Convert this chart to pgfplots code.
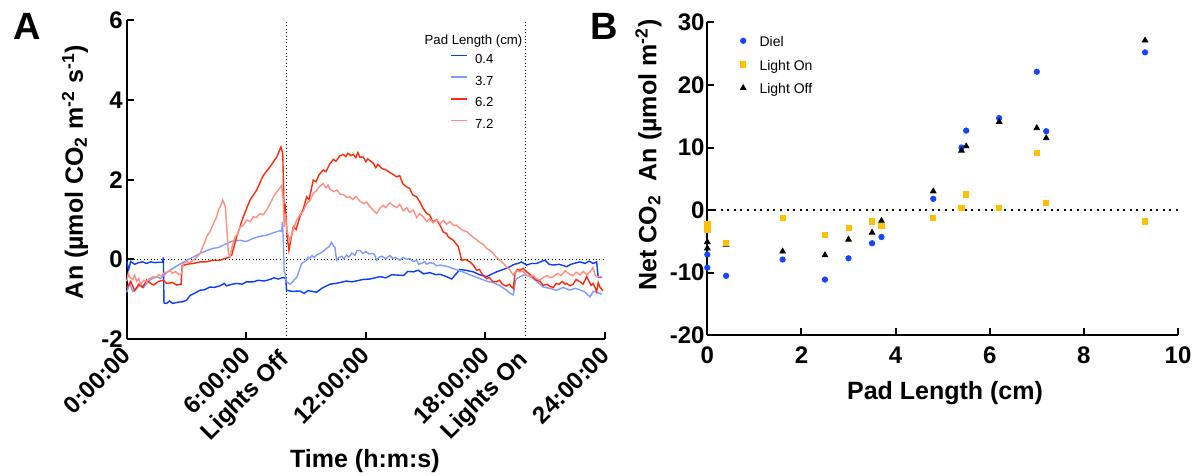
\documentclass[border=0pt]{standalone}
\usepackage{fontspec}
\setmainfont{Liberation Sans}
\usepackage{pgfplots}
\pgfplotsset{compat=1.18}
\definecolor{c04}{HTML}{0A3CFF}
\definecolor{c37}{HTML}{7F9BFF}
\definecolor{c62}{HTML}{FF2A0A}
\definecolor{c72}{HTML}{FF9080}
\definecolor{diel}{HTML}{1446FF}
\definecolor{lon}{HTML}{FFC000}
\pgfplotsset{
 gp/.style={
  scale only axis, axis lines*=left, axis line style={line width=1pt},
  tick align=inside, major tick length=3.5pt, tick style={line width=1pt, black},
  /pgf/number format/assume math mode=true,
  tick label style={font=\fontsize{12}{12}\selectfont\bfseries},
  label style={font=\fontsize{12.5}{12.5}\selectfont\bfseries},
  clip=false,
 }
}
\begin{document}
\begin{tikzpicture}
\begin{axis}[gp, at={(63.35pt,68.35pt)}, anchor=south west,
 width=239.15pt, height=159.65pt,
 xmin=0, xmax=24, ymin=-2, ymax=6,
 xtick={0,6,12,18,24},
 xticklabels={0:00:00,6:00:00,12:00:00,18:00:00,24:00:00},
 extra x ticks={8,20}, extra x tick labels={Lights Off,Lights On},
 extra x tick style={major tick length=0pt, xticklabel style={rotate=-45, yshift=-2.5pt, rotate=45}},
 ytick={-2,0,2,4,6},
 xticklabel style={yshift=-6pt, rotate=45, anchor=east, inner sep=0pt},
 yticklabel style={inner sep=0pt, xshift=-1.8pt},
 xlabel={Time (h:m:s)},
 ylabel={An (µmol CO\textsubscript{2} m\textsuperscript{-2} s\textsuperscript{-1})},
 xlabel style={at={(axis description cs:0.498,-0.381)}, anchor=center},
 ylabel style={at={(axis description cs:-0.108,0.524)}, anchor=center},
 legend cell align=left,
 legend style={at={(axis description cs:0.676,0.895)}, anchor=north west, draw=none, fill=none,
   inner sep=0pt, row sep=6.15pt, font=\fontsize{6.6}{6.6}\selectfont,
   nodes={inner sep=0pt, text height=4.7pt, text depth=0pt},
   /tikz/every odd column/.append style={column sep=3.5pt}},
 legend image code/.code={\draw[#1] (0pt,1.6pt) -- (8pt,1.6pt);},
 every axis plot/.append style={line width=0.7pt, no marks},
]
\draw[line width=0.5pt, dash pattern=on 0.5pt off 1.2pt] (axis cs:0,0) -- (axis cs:24,0);
\draw[line width=0.5pt, dash pattern=on 0.5pt off 1.2pt] (axis cs:8,-2) -- (axis cs:8,6);
\draw[line width=0.5pt, dash pattern=on 0.5pt off 1.2pt] (axis cs:20,-2) -- (axis cs:20,6);
\addplot[c04, forget plot] coordinates {
(0,-0.05)(0.1,-0.25)(0.2,-0.05)(0.4,-0.12)(0.6,-0.08)(0.8,-0.06)(1.0,-0.10)(1.2,-0.06)(1.4,-0.08)(1.6,-0.07)
(1.80,-0.07)(1.84,0.05)(1.87,-1.09)(2.0,-1.10)(2.15,-1.04)(2.3,-1.10)(2.59,-1.07)(2.8,-1.06)(3.01,-1.02)(3.18,-0.90)
(3.4,-0.85)(3.68,-0.77)(3.9,-0.76)(4.18,-0.69)(4.4,-0.70)(4.68,-0.66)(4.9,-0.60)(5.0,-0.66)(5.3,-0.62)(5.52,-0.60)
(5.8,-0.62)(6.0,-0.56)(6.35,-0.56)(6.6,-0.52)(6.9,-0.54)(7.19,-0.50)(7.4,-0.46)(7.6,-0.49)(7.86,-0.45)(7.98,-0.48)
(8.02,-0.77)(8.3,-0.80)(8.69,-0.79)(8.9,-0.85)(9.1,-0.78)(9.53,-0.82)(9.8,-0.72)(10.2,-0.62)(10.5,-0.60)(11.03,-0.54)
(11.3,-0.56)(11.87,-0.50)(12.2,-0.49)(12.71,-0.43)(13.0,-0.46)(13.3,-0.38)(13.54,-0.39)(13.9,-0.40)(14.1,-0.30)(14.38,-0.31)
(14.63,-0.27)(14.9,-0.36)(15.21,-0.33)(15.5,-0.38)(15.72,-0.37)(16.0,-0.42)(16.31,-0.49)(16.72,-0.25)(17.0,-0.27)(17.39,-0.31)
(17.7,-0.38)(18.06,-0.43)(18.3,-0.37)(18.56,-0.31)(18.9,-0.25)(19.23,-0.18)(19.45,-0.12)(19.65,-0.10)(19.8,-0.06)(20.07,-0.14)
(20.3,-0.10)(20.57,-0.10)(20.8,-0.05)(20.99,-0.02)(21.2,-0.12)(21.41,-0.14)(21.7,-0.12)(22.07,-0.18)(22.3,-0.12)(22.74,-0.06)
(23.0,-0.10)(23.2,-0.04)(23.41,-0.10)(23.58,-0.06)(23.66,-0.45)(23.83,-0.45)
};
\addplot[c37, forget plot] coordinates {
(0,-0.82)(0.15,-0.60)(0.3,-0.80)(0.5,-0.73)(0.7,-0.62)(0.85,-0.70)(1.0,-0.60)(1.2,-0.50)(1.5,-0.43)(1.7,-0.48)
(1.9,-0.38)(2.17,-0.27)(2.4,-0.20)(2.59,-0.14)(2.8,-0.08)(3.01,-0.02)(3.3,0.05)(3.68,0.15)(4.0,0.22)(4.35,0.28)
(4.6,0.30)(5.02,0.40)(5.3,0.46)(5.69,0.48)(6.0,0.45)(6.35,0.53)(6.7,0.58)(7.02,0.61)(7.3,0.66)(7.69,0.72)
(7.78,0.70)(7.81,0.94)(7.86,0.50)(7.9,-0.30)(7.95,-0.35)(8.0,-0.55)(8.2,-0.62)(8.53,-0.45)(8.78,-0.10)(9.0,-0.03)
(9.1,0.06)(9.19,0.03)(9.3,0.10)(9.4,0.05)(9.55,0.12)(9.7,0.15)(9.85,0.20)(10.03,0.28)(10.15,0.32)(10.28,0.43)
(10.4,0.32)(10.45,0.30)(10.53,-0.02)(10.65,0.05)(10.8,0.08)(10.9,0.02)(11.03,0.11)(11.15,0.06)(11.3,0.16)(11.45,0.10)
(11.55,0.22)(11.7,0.23)(11.85,0.15)(12.0,0.20)(12.15,0.14)(12.37,0.15)(12.45,0.10)(12.54,-0.02)(12.65,0.05)(12.8,0.08)
(13.0,0.02)(13.21,0.10)(13.35,0.03)(13.5,0.05)(13.7,-0.02)(13.88,0.05)(14.05,0.0)(14.2,0.02)(14.4,-0.05)(14.55,-0.02)
(14.65,-0.12)(14.8,-0.10)(14.95,-0.05)(15.05,-0.12)(15.2,-0.08)(15.4,-0.10)(15.55,-0.16)(15.72,-0.14)
(16.13,-0.18)(16.39,-0.23)(16.7,-0.28)(17.06,-0.35)(17.4,-0.42)(17.73,-0.48)
(18.1,-0.55)(18.4,-0.58)(18.7,-0.65)(19.06,-0.77)(19.25,-0.85)(19.4,-0.89)(19.5,-0.55)(19.57,-0.48)(19.9,-0.39)(20.15,-0.40)
(20.4,-0.48)(20.7,-0.60)(20.9,-0.69)(21.2,-0.72)(21.57,-0.77)(21.9,-0.70)(22.24,-0.77)(22.5,-0.72)(22.74,-0.76)(23.0,-0.82)
(23.25,-0.94)(23.4,-0.80)(23.58,-0.82)(23.83,-0.87)
};
\addplot[c62, forget plot] coordinates {
(0,-0.72)(0.2,-0.55)(0.4,-0.78)(0.6,-0.62)(0.8,-0.70)(1.0,-0.52)(1.2,-0.60)(1.34,-0.64)(1.6,-0.55)(1.84,-0.52)
(2.0,-0.60)(2.3,-0.58)(2.5,-0.64)(2.73,-0.62)(2.78,-0.16)(3.0,-0.12)(3.34,-0.10)(3.7,-0.06)(4.01,-0.06)(4.3,-0.02)
(4.68,-0.02)(4.9,0.02)(5.1,0.05)(5.27,0.11)(5.52,0.57)(5.85,1.07)(6.19,1.49)(6.52,1.74)(6.86,2.11)(7.19,2.32)
(7.53,2.57)(7.74,2.82)(7.83,2.66)(7.91,1.0)(7.95,1.4)(8.05,0.6)(8.14,0.23)
(8.36,0.82)(8.5,0.75)(8.69,1.07)(8.85,1.25)(9.03,1.57)(9.15,1.50)(9.36,1.99)(9.5,1.95)(9.65,2.12)(9.86,2.24)
(10.0,2.20)(10.2,2.40)(10.37,2.51)(10.5,2.46)(10.7,2.60)(10.87,2.63)(11.0,2.58)(11.1,2.66)(11.25,2.60)(11.37,2.63)
(11.5,2.55)(11.6,2.68)(11.7,2.56)(11.87,2.57)(12.0,2.45)(12.1,2.52)(12.37,2.41)(12.5,2.30)(12.6,2.38)(12.8,2.28)
(13.04,2.24)(13.2,2.18)(13.4,2.12)(13.54,2.07)(13.7,2.10)(13.85,1.90)(14.04,1.82)(14.2,1.78)(14.35,1.62)(14.55,1.57)
(14.7,1.45)(14.85,1.30)(15.05,1.15)(15.2,1.12)(15.35,0.95)(15.55,0.99)(15.72,0.86)(15.88,0.69)(16.06,0.65)(16.13,0.57)
(16.39,0.48)(16.64,0.32)
(16.81,-0.02)(17.0,0.0)(17.23,-0.06)(17.4,-0.15)(17.56,-0.27)(17.7,-0.25)(17.85,-0.38)(18.06,-0.48)(18.2,-0.45)(18.35,-0.55)
(18.56,-0.56)(18.7,-0.52)(18.85,-0.62)(19.06,-0.67)(19.2,-0.62)(19.4,-0.73)(19.48,-0.35)(19.6,-0.25)(19.73,-0.27)(19.9,-0.22)
(20.07,-0.31)(20.25,-0.38)(20.4,-0.45)(20.57,-0.52)(20.75,-0.55)(20.9,-0.65)(21.1,-0.62)(21.25,-0.68)(21.41,-0.70)(21.55,-0.60)
(21.7,-0.62)(21.85,-0.55)(22.0,-0.62)(22.07,-0.60)(22.25,-0.66)(22.4,-0.62)(22.55,-0.50)(22.74,-0.56)(22.9,-0.62)(23.08,-0.43)
(23.2,-0.55)(23.3,-0.65)(23.41,-0.60)(23.5,-0.70)(23.58,-0.81)(23.66,-0.58)(23.75,-0.70)(23.9,-0.78)
};
\addplot[c72, forget plot] coordinates {
(0,-0.55)(0.08,-0.35)(0.15,-0.45)(0.3,-0.50)(0.4,-0.40)(0.5,-0.55)(0.6,-0.48)(0.7,-0.62)(0.85,-0.52)(1.0,-0.55)
(1.15,-0.48)(1.34,-0.43)(1.5,-0.45)(1.6,-0.38)(1.75,-0.42)(1.84,-0.35)(2.0,-0.32)(2.17,-0.27)(2.3,-0.35)(2.45,-0.30)
(2.6,-0.38)(2.75,-0.36)(2.84,-0.10)(3.0,-0.05)(3.15,-0.08)(3.34,-0.02)(3.5,0.05)(3.68,0.15)(3.85,0.35)(4.01,0.57)
(4.2,0.72)(4.35,0.9)(4.5,1.05)(4.6,1.24)(4.72,1.35)(4.82,1.49)(4.95,1.32)(5.05,0.6)(5.1,0.15)(5.19,0.07)
(5.3,0.35)(5.44,0.57)(5.55,0.62)(5.69,0.82)(5.85,0.85)(6.02,0.99)(6.2,0.95)(6.35,1.07)(6.5,1.05)(6.69,1.15)
(6.85,1.12)(7.02,1.24)(7.2,1.40)(7.36,1.57)(7.55,1.70)(7.78,1.86)(7.85,1.5)(7.9,0.82)(7.95,1.15)(8.05,0.7)
(8.19,0.48)(8.35,0.75)(8.53,0.99)(8.7,1.12)(8.85,1.20)(9.03,1.40)(9.2,1.48)(9.36,1.65)(9.5,1.72)(9.7,1.84)
(9.86,1.90)(10.0,1.80)(10.1,1.86)(10.2,1.76)(10.4,1.70)(10.55,1.74)(10.7,1.64)(10.9,1.62)(11.05,1.56)(11.2,1.57)
(11.35,1.50)(11.5,1.58)(11.7,1.46)(11.9,1.40)(12.05,1.44)(12.2,1.32)(12.35,1.25)(12.54,1.15)(12.7,1.28)(12.87,1.36)
(13.0,1.30)(13.2,1.42)(13.38,1.35)(13.55,1.30)(13.7,1.38)(13.88,1.22)(14.05,1.30)(14.2,1.18)(14.38,1.24)(14.55,1.05)
(14.7,1.15)(14.88,1.07)(15.05,0.95)(15.2,1.02)(15.38,0.92)(15.55,1.00)(15.72,0.90)(15.9,0.98)(16.05,0.88)(16.22,0.95)
(16.4,0.85)(16.55,0.86)(16.72,0.78)(16.9,0.72)(17.05,0.70)(17.23,0.62)(17.4,0.55)(17.55,0.50)(17.73,0.42)(17.9,0.38)
(18.05,0.28)(18.23,0.23)(18.4,0.15)(18.55,0.05)(18.73,-0.02)(18.9,-0.10)(19.06,-0.18)(19.2,-0.25)(19.4,-0.39)(19.55,-0.28)
(19.73,-0.31)(19.9,-0.30)(20.05,-0.40)(20.23,-0.43)(20.4,-0.40)(20.55,-0.48)(20.74,-0.52)(20.9,-0.45)(21.1,-0.40)(21.25,-0.46)
(21.41,-0.43)(21.6,-0.35)(21.8,-0.40)(22.0,-0.28)(22.07,-0.31)(22.25,-0.38)(22.4,-0.40)(22.55,-0.32)(22.74,-0.39)(22.9,-0.30)
(23.1,-0.38)(23.25,-0.31)(23.4,-0.20)(23.5,-0.38)(23.58,-0.43)(23.83,-0.44)
};
\addlegendimage{draw=c04, line width=0.8pt}
\addlegendentry{0.4}
\addlegendimage{draw=c37, line width=0.8pt}
\addlegendentry{3.7}
\addlegendimage{draw=c62, line width=0.8pt}
\addlegendentry{6.2}
\addlegendimage{draw=c72, line width=0.8pt}
\addlegendentry{7.2}
\node[font=\fontsize{6.6}{6.6}\selectfont, anchor=center, inner sep=0pt] at (axis description cs:0.725,0.934) {Pad Length (cm)};
\end{axis}

\begin{axis}[gp, at={(353.65pt,70.35pt)}, anchor=south west,
 width=235.35pt, height=156.5pt,
 xmin=0, xmax=10, ymin=-20, ymax=30,
 xtick={0,2,4,6,8,10}, ytick={-20,-10,0,10,20,30},
 xticklabel style={inner sep=0pt, yshift=-5.4pt},
 yticklabel style={inner sep=0pt, xshift=-1.2pt},
 xlabel={Pad Length (cm)},
 ylabel={Net CO\textsubscript{2}\ \ An (µmol m\textsuperscript{-2})},
 xlabel style={at={(axis description cs:0.505,-0.186)}, anchor=center},
 ylabel style={at={(axis description cs:-0.125,0.576)}, anchor=center},
 legend cell align=left,
 legend style={at={(axis description cs:0.0695,0.955)}, anchor=north west, draw=none, fill=none,
   inner sep=0pt, row sep=6.8pt, font=\fontsize{7}{7}\selectfont,
   nodes={inner sep=0pt, text height=5pt, text depth=0pt},
   /tikz/every odd column/.append style={column sep=6.8pt}},
 legend image code/.code={\draw[#1] plot coordinates {(0pt,0.5pt)};},
]
\draw[line width=1pt, dash pattern=on 1pt off 2.3pt] (axis cs:0,0) -- (axis cs:10,0);
\addplot[only marks, mark=*, diel, mark size=1.35pt, forget plot] coordinates {
(0,-7.1)(0,-9.2)(0.4,-10.5)(1.6,-7.9)(2.5,-11.1)(3.0,-7.7)(3.5,-5.3)(3.7,-4.3)
(4.8,1.8)(5.4,10.0)(5.5,12.7)(6.2,14.7)(7.0,22.1)(7.2,12.6)(9.3,25.2)
};
\addplot[only marks, mark=triangle*, black, mark size=1.6pt, forget plot] coordinates {
(0,-5.1)(0,-6.1)(0.4,-5.5)(1.6,-6.6)(2.5,-7.2)(3.0,-4.7)(3.5,-3.6)(3.7,-1.7)
(4.8,3.0)(5.4,9.5)(5.5,10.2)(6.2,14.1)(7.0,13.1)(7.2,11.5)(9.3,27.1)
};
\addplot[only marks, mark=square*, lon, mark size=1.3pt, forget plot] coordinates {
(0,-2.2)(0,-3.2)(0.4,-5.2)(1.6,-1.3)(2.5,-3.9)(3.0,-2.9)(3.5,-1.8)(3.7,-2.5)
(4.8,-1.2)(5.4,0.4)(5.5,2.5)(6.2,0.4)(7.0,9.1)(7.2,1.1)(9.3,-1.8)
};
\addlegendimage{only marks, mark=*, diel, mark size=1.35pt}
\addlegendentry{Diel}
\addlegendimage{only marks, mark=square*, lon, mark size=1.3pt}
\addlegendentry{Light On}
\addlegendimage{only marks, mark=triangle*, black, mark size=1.6pt}
\addlegendentry{Light Off}
\end{axis}
\node[anchor=north west, inner sep=0pt, font=\fontsize{19}{19}\selectfont\bfseries] at (6.5pt,231.5pt) {A};
\node[anchor=north west, inner sep=0pt, font=\fontsize{19}{19}\selectfont\bfseries] at (295pt,231.5pt) {B};
\pgfresetboundingbox
\useasboundingbox (0pt,0pt) rectangle (602pt,238pt);
\end{tikzpicture}
\end{document}
